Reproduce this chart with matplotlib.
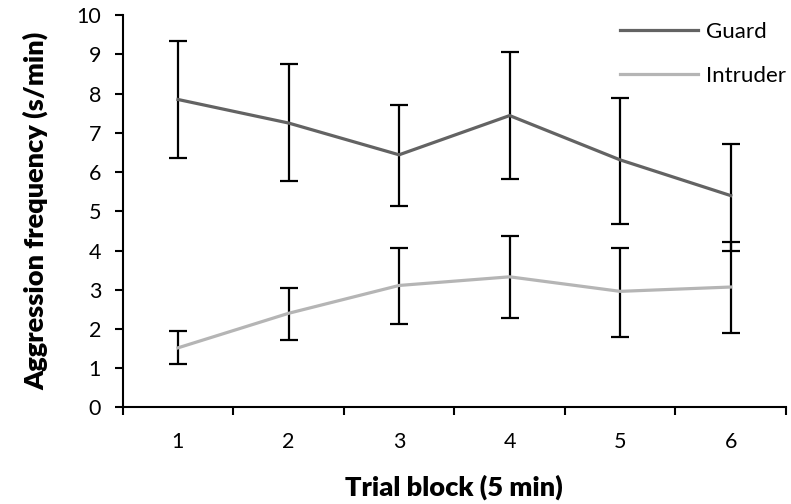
import matplotlib.pyplot as plt
import numpy as np

plt.rcParams['font.family'] = ['Lato', 'DejaVu Sans']

# data
blocks = [1, 2, 3, 4, 5, 6]
guard = [7.85, 7.25, 6.44, 7.44, 6.31, 5.40]
guard_hi = [9.34, 8.75, 7.70, 9.06, 7.90, 6.72]
guard_lo = [6.36, 5.76, 5.13, 5.82, 4.67, 4.00]
intruder = [1.52, 2.40, 3.11, 3.33, 2.96, 3.07]
intruder_hi = [1.95, 3.04, 4.06, 4.36, 4.07, 4.21]
intruder_lo = [1.11, 1.73, 2.12, 2.29, 1.80, 1.91]

guard = np.array(guard)
intruder = np.array(intruder)
g_err = [guard - np.array(guard_lo), np.array(guard_hi) - guard]
i_err = [intruder - np.array(intruder_lo), np.array(intruder_hi) - intruder]

fig = plt.figure(figsize=(7.91, 5.04), dpi=100)
ax = fig.add_axes([0.1551, 0.1915, 0.8386, 0.7785])

ax.errorbar(blocks, guard, yerr=g_err, fmt='none', ecolor='black',
            elinewidth=1.6, capsize=6.2, capthick=1.6, zorder=2)
ax.errorbar(blocks, intruder, yerr=i_err, fmt='none', ecolor='black',
            elinewidth=1.6, capsize=6.2, capthick=1.6, zorder=2)
ax.plot(blocks, guard, color='#636363', linewidth=2.3, label='Guard', zorder=3)
ax.plot(blocks, intruder, color='#b5b5b5', linewidth=2.3, label='Intruder', zorder=3)

ax.set_xlim(0.5, 6.5)
ax.set_ylim(0, 10)
ax.set_yticks(range(0, 11))
ax.set_xticks(blocks)
ax.set_xticks(np.arange(0.5, 6.6, 1), minor=True)

for s in ['top', 'right']:
    ax.spines[s].set_visible(False)
for s in ['left', 'bottom']:
    ax.spines[s].set_linewidth(1.5)
    ax.spines[s].set_color('black')

ax.tick_params(axis='y', length=5.5, width=1.5, pad=10, labelsize=15.5)
ax.tick_params(axis='x', which='major', length=0, pad=18, labelsize=15.5)
ax.tick_params(axis='x', which='minor', length=5.5, width=1.5, direction='out')

ax.set_xlabel('Trial block (5 min)', fontsize=19.5, fontweight='heavy', labelpad=16)
ax.set_ylabel('Aggression frequency (s/min)', fontsize=19.5, fontweight='heavy', labelpad=20)

ax.legend(loc='upper right', bbox_to_anchor=(1.03, 1.033), frameon=False,
          fontsize=16, handlelength=3.5, handletextpad=0.35, labelspacing=1.05)

plt.savefig('out.png')
